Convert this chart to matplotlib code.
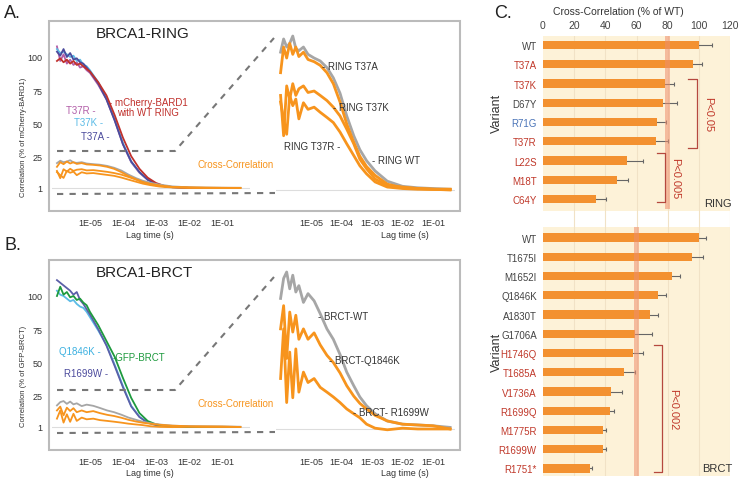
import numpy as np
import matplotlib
matplotlib.use('Agg')
import matplotlib.pyplot as plt
from matplotlib.lines import Line2D
from matplotlib.patches import Rectangle

W, H = 739, 485

# lag time grids (log10 of seconds)
LAG_AUTO = [-6.0, -5.9, -5.8, -5.7, -5.6, -5.5, -5.4, -5.3, -5.2, -5.1, -5.0,
            -4.75, -4.5, -4.25, -4.0, -3.75, -3.5, -3.25, -3.0, -2.75, -2.5,
            -2.0, -1.5, -1.0, -0.5]
LAG_CROSS = [-6.0, -5.9, -5.8, -5.7, -5.6, -5.5, -5.4, -5.25, -5.1, -4.9, -4.7,
             -4.48, -4.27, -4.05, -3.83, -3.6, -3.4, -3.18, -2.9, -2.5, -2.0,
             -1.5, -1.0, -0.44]

# panel A, autocorrelation (% of mCherry-BARD1)
ring_t37a = [104, 101, 106, 100, 103, 98, 99, 96, 95, 92, 89, 80, 68, 52, 34, 21,
             13, 7.3, 4, 2.3, 1.6, 1.1, 1.0, 1.0, 1.0]
ring_t37k = [106, 103, 104, 102, 100, 101, 97, 98, 94, 93, 90, 81, 69, 53, 35, 21,
             13, 7.3, 4, 2.3, 1.6, 1.1, 1.0, 1.0, 1.0]
ring_t37r = [108, 97, 102, 95, 98, 94, 96, 92, 93, 90, 88, 79, 68, 52, 34, 20.5,
             12.5, 7.1, 4, 2.3, 1.6, 1.1, 1.0, 1.0, 1.0]
ring_wt = [97, 99, 96, 98, 95, 97, 94, 95, 93, 91, 89, 81, 71, 56, 39, 25, 15.5, 8.8,
           4.8, 2.6, 1.7, 1.1, 1.0, 1.0, 1.0]

# panel A, cross-correlation
cc_ring_wt = [19.8, 21.6, 20.5, 21, 22, 20.3, 20, 20.5, 19.5, 19.0, 18.6, 17.7, 16.3,
              14.2, 11.1, 8.4, 6.5, 5.0, 3.6, 2.2, 1.5, 1.3, 1.2, 1.1]
cc_ring_t37a = [17, 20.5, 19, 21, 19.5, 20.5, 19.2, 19.8, 18.8, 18.5, 18.0, 17.0,
                15.5, 13.0, 10.0, 7.5, 5.6, 4.2, 3.0, 1.8, 1.3, 1.2, 1.1, 1.1]
cc_ring_t37k = [13.9, 8.4, 15.2, 13.4, 15.5, 13.9, 14.8, 15.2, 14.3, 14.5, 13.9, 13.2,
                12.3, 11.1, 9.3, 7.3, 5.2, 3.9, 2.5, 1.6, 1.4, 1.2, 1.1, 1.1]
cc_ring_t37r = [13, 10.7, 8.6, 13.9, 12.5, 13.4, 10.7, 12.9, 12, 12.3, 11.6, 10.9,
                10.2, 8.9, 7.3, 5.7, 4.3, 3.2, 2.1, 1.4, 1.2, 1.1, 1.1, 1.0]

# panel B, autocorrelation (% of GFP-BRCT)
brct_r1699w = [112, 110, 108, 106, 104, 101, 103, 97, 94, 90, 86, 75, 62.5, 47, 31,
               16.5, 8.5, 4.2, 2.4, 1.7, 1.3, 1.1, 1.0, 1.0, 1.0]
brct_q1846k = [104, 101, 100, 98, 96, 97, 94, 92, 91, 88, 84, 74, 63, 48, 32, 17,
               8.7, 4.5, 2.6, 1.8, 1.4, 1.1, 1.0, 1.0, 1.0]
brct_gfp = [100, 107, 101, 103, 99, 100, 97, 98, 95, 93, 88, 78, 66, 54, 38, 23,
            11.5, 5.5, 3.0, 2.0, 1.5, 1.1, 1.0, 1.0, 1.0]

# panel B, cross-correlation
cc_brct_wt = [17.3, 19.8, 20.6, 18.5, 20.2, 18.1, 18.9, 16.8, 17.9, 17.0, 15.4, 13.5,
              12.2, 10.3, 8.1, 6.4, 5.0, 3.9, 2.9, 2.0, 1.6, 1.5, 1.4, 1.2]
cc_brct_q1846k = [13.5, 16.4, 9.8, 15.6, 13.1, 15.2, 12.2, 13.5, 12.2, 13.0, 11.5, 10.2,
                  9.3, 8.0, 6.4, 5.1, 4.2, 3.5, 2.7, 2.0, 1.6, 1.5, 1.4, 1.0]
cc_brct_r1699w = [7.3, 13.5, 4.3, 10.6, 4.9, 11.0, 5.6, 8.1, 6.8, 7.3, 6.2, 5.6, 5.0,
                  4.3, 3.5, 2.9, 2.4, 1.6, 1.1, 0.9, 1.1, 1.0, 1.0, 1.0]

# panel C, cross-correlation (% of WT)
ring_variants = ['WT', 'T37A', 'T37K', 'D67Y', 'R71G', 'T37R', 'L22S', 'M18T', 'C64Y']
ring_values = [100, 96, 78.6, 77, 73.3, 72.7, 54, 47.4, 34.2]
ring_errors = [8.5, 5.8, 5.5, 9, 5.7, 7.7, 10, 6.9, 6]
brct_variants = ['WT', 'T1675I', 'M1652I', 'Q1846K', 'A1830T', 'G1706A', 'H1746Q',
                 'T1685A', 'V1736A', 'R1699Q', 'M1775R', 'R1699W', 'R1751*']
brct_values = [100, 95.3, 83, 73.5, 68.4, 58.8, 57.7, 52, 43.4, 43, 38.7, 38.5, 30]
brct_errors = [4.6, 7.3, 5, 5.5, 5.6, 11.2, 6.3, 7, 7.1, 2.8, 1.5, 1.9, 1.5]

GRAY_TXT = '#444444'
RED_TXT = '#c0392b'
BLUE_TXT = '#4a74b8'
ring_colors = [GRAY_TXT, RED_TXT, RED_TXT, GRAY_TXT, BLUE_TXT, RED_TXT, RED_TXT, RED_TXT, RED_TXT]
brct_colors = [GRAY_TXT] * 6 + [RED_TXT] * 7

ORANGE = '#f7941d'
CC_GRAY = '#a6a6a6'
BAR_ORANGE = '#f39130'

plt.rcParams['font.family'] = ['Liberation Sans', 'DejaVu Sans']
fig = plt.figure(figsize=(W / 100, H / 100), dpi=100)


def px_axes(x0, y0, x1, y1):
    return fig.add_axes([x0 / W, 1 - y1 / H, (x1 - x0) / W, (y1 - y0) / H])


def fig_line(xs, ys, **kw):
    fig.add_artist(Line2D([x / W for x in xs], [1 - y / H for y in ys],
                          transform=fig.transFigure, **kw))


def fig_text(x, y, s, **kw):
    fig.text(x / W, 1 - y / H, s, **kw)


def style_inset(ax, xlim, ylim, left_ticks):
    ax.set_xscale('log')
    ax.set_xlim(10 ** xlim[0], 10 ** xlim[1])
    ax.set_ylim(*ylim)
    for s in ax.spines.values():
        s.set_visible(False)
    ax.set_xticks([1e-5, 1e-4, 1e-3, 1e-2, 1e-1])
    ax.set_xticklabels(['1E-05', '1E-04', '1E-03', '1E-02', '1E-01'])
    ax.xaxis.set_minor_locator(matplotlib.ticker.NullLocator())
    ax.tick_params(axis='x', length=0, pad=10, labelsize=6.5, colors='#333333')
    if left_ticks:
        ax.set_yticks([1, 25, 50, 75, 100])
        ax.tick_params(axis='y', length=0, pad=7, labelsize=6.5, colors='#333333')
    else:
        ax.set_yticks([])
    ax.axhline(1, color='#dddddd', lw=0.8, zorder=0)
    ax.patch.set_alpha(0)


def draw_panel(top, title, ylabel, autos, crosses, cross_labels, right_ylim, auto_labels):
    # frame
    fig.add_artist(Rectangle((49 / W, 1 - (top + 190) / H), 411 / W, 190 / H,
                             transform=fig.transFigure, fill=False,
                             edgecolor='#bbbbbb', lw=1.5))
    axl = px_axes(52, top + 18, 250, top + 183)
    style_inset(axl, (-6.15, -0.15), (-11.1, 113.6), True)
    for vals, col in autos:
        axl.plot(10 ** np.array(LAG_AUTO), vals, color=col, lw=1.3)
    for vals, col in crosses:
        axl.plot(10 ** np.array(LAG_CROSS), vals, color=col, lw=1.3)
    axr = px_axes(276, top + 8, 455, top + 183)
    style_inset(axr, (-6.15, -0.28), right_ylim, False)
    for vals, col in crosses:
        axr.plot(10 ** np.array(LAG_CROSS), vals, color=col, lw=2.0)
    fig_text(96, top + 12, title, fontsize=11, ha='left', va='center', color='#222222')
    fig_text(24, top + 115, ylabel, fontsize=5.5, rotation=90, ha='center', va='center',
             color='#333333')
    fig_text(150, top + 213, 'Lag time (s)', fontsize=6.5, ha='center', va='center', color='#333333')
    fig_text(405, top + 213, 'Lag time (s)', fontsize=6.5, ha='center', va='center', color='#333333')
    fig_text(197, top + 143, 'Cross-Correlation', fontsize=7, ha='left', va='center', color=ORANGE)
    for x, y, s, col, ha in cross_labels + auto_labels:
        fig_text(x, y, s, fontsize=7, ha=ha, va='center', color=col)
    # zoom indicator dashes
    dash = dict(color='#777777', lw=1.5, dashes=(3, 3))
    fig_line([57, 175, 274], [top + 130, top + 130, top + 17], **dash)
    fig_line([57, 275], [top + 173, top + 172], **dash)


draw_panel(22, 'BRCA1-RING', 'Correlation (% of mCherry-BARD1)',
           [(ring_t37r, '#b25ea8'), (ring_t37k, '#5bbbe6'), (ring_t37a, '#4b4a9c'),
            (ring_wt, '#c0302b')],
           [(cc_ring_wt, CC_GRAY), (cc_ring_t37a, ORANGE), (cc_ring_t37k, ORANGE),
            (cc_ring_t37r, ORANGE)],
           [(322, 67, '- RING T37A', '#333333', 'left'),
            (333, 108, '- RING T37K', '#333333', 'left'),
            (340, 147, 'RING T37R -', '#333333', 'right'),
            (372, 161, '- RING WT', '#333333', 'left')],
           (-0.91, 22.96),
           [(109, 103, '- mCherry-BARD1', '#c0302b', 'left'),
            (117, 113, 'with WT RING', '#c0302b', 'left'),
            (96, 111, 'T37R -', '#b25ea8', 'right'),
            (103, 123, 'T37K -', '#5bbbe6', 'right'),
            (110, 137, 'T37A -', '#4b4a9c', 'right')])

draw_panel(261, 'BRCA1-BRCT', 'Correlation (% of GFP-BRCT)',
           [(brct_q1846k, '#5bbbe6'), (brct_r1699w, '#5b5fa8'), (brct_gfp, '#1e9a3e')],
           [(cc_brct_wt, CC_GRAY), (cc_brct_q1846k, ORANGE), (cc_brct_r1699w, ORANGE)],
           [(318, 317, '- BRCT-WT', '#333333', 'left'),
            (329, 361, '- BRCT-Q1846K', '#333333', 'left'),
            (353, 413, '- BRCT- R1699W', '#333333', 'left')],
           (-0.75, 21.1),
           [(101, 352, 'Q1846K -', '#3bb0e0', 'right'),
            (113, 358, '-GFP-BRCT', '#1e9a3e', 'left'),
            (108, 374, 'R1699W -', '#4b4a9c', 'right')])

# panel C
axc = px_axes(543, 37, 730, 477)
slot_ring = np.arange(len(ring_variants))
slot_brct = np.arange(len(brct_variants)) + len(ring_variants) + 1
axc.set_xlim(0, 120)
axc.set_ylim(22.39, -0.47)
axc.axhspan(-0.47, 8.62, color='#fdf2d8', zorder=0, lw=0)
axc.axhspan(9.45, 22.39, color='#fdf2d8', zorder=0, lw=0)
axc.axvspan(78.5, 81.5, ymin=1 - (8.5 + 0.47) / 22.86, ymax=1, color='#ef8f6e', alpha=0.55, zorder=4, lw=0)
axc.axvspan(58.5, 61.5, ymin=0, ymax=1 - (9.45 + 0.47) / 22.86, color='#ef8f6e', alpha=0.55, zorder=4, lw=0)
for v in [20, 40, 60, 80, 100, 120]:
    axc.axvline(v, color='#f1e2c6', lw=0.8, zorder=1)
axc.barh(slot_ring, ring_values, height=0.42, color=BAR_ORANGE, zorder=3)
axc.barh(slot_brct, brct_values, height=0.42, color=BAR_ORANGE, zorder=3)
axc.errorbar(ring_values, slot_ring, xerr=ring_errors, fmt='none', ecolor='#666666',
             elinewidth=0.8, capsize=1.5, capthick=0.8, zorder=2)
axc.errorbar(brct_values, slot_brct, xerr=brct_errors, fmt='none', ecolor='#666666',
             elinewidth=0.8, capsize=1.5, capthick=0.8, zorder=2)
axc.set_yticks(list(slot_ring) + list(slot_brct))
axc.set_yticklabels(ring_variants + brct_variants)
for lab, col in zip(axc.get_yticklabels(), ring_colors + brct_colors):
    lab.set_color(col)
axc.tick_params(axis='y', length=0, pad=4.5, labelsize=7)
axc.xaxis.tick_top()
axc.set_xticks([0, 20, 40, 60, 80, 100, 120])
axc.tick_params(axis='x', length=0, pad=4, labelsize=7.5, colors='#444444')
for s in axc.spines.values():
    s.set_visible(False)

# significance brackets
for y0, y1, xb, xt, label, xl in [(1.75, 5.35, 99, 93, 'P<0.05', 106),
                                  (5.6, 8.15, 78.2, 73, 'P<0.005', 84.7),
                                  (15.6, 22.2, 76.3, 71, 'P<0.002', 83.4)]:
    axc.plot([xt, xb, xb, xt], [y0, y0, y1, y1], color='#b5483e', lw=0.9, zorder=5)
    axc.text(xl, (y0 + y1) / 2, label, rotation=-90, color=RED_TXT, fontsize=8,
             ha='center', va='center', zorder=5)
axc.text(112, 8.2, 'RING', fontsize=8, ha='center', va='center', color='#333333')
axc.text(112, 21.97, 'BRCT', fontsize=8, ha='center', va='center', color='#333333')

fig_text(497, 113, 'Variant', fontsize=9, rotation=90, ha='center', va='center', color='#333333')
fig_text(497, 352, 'Variant', fontsize=9, rotation=90, ha='center', va='center', color='#333333')
fig_text(618, 12, 'Cross-Correlation (% of WT)', fontsize=7.5, ha='center', va='center', color='#333333')

fig_text(4, 14, 'A.', fontsize=13, ha='left', va='center', color='#222222')
fig_text(4, 246, 'B.', fontsize=13, ha='left', va='center', color='#222222')
fig_text(494, 14, 'C.', fontsize=13, ha='left', va='center', color='#222222')

fig.savefig('out.png', dpi=100)
